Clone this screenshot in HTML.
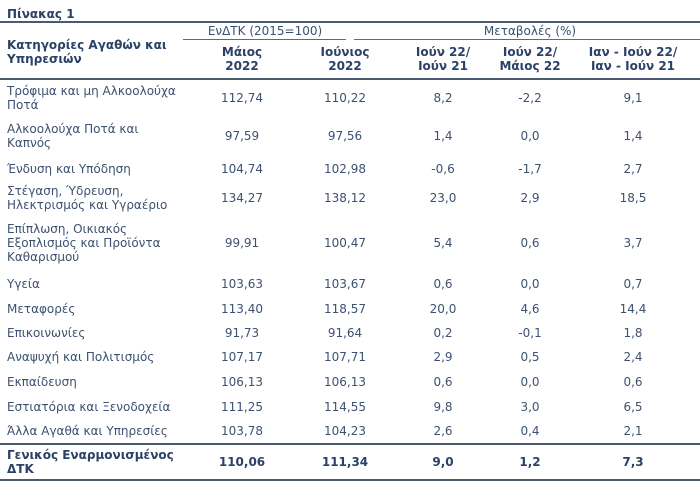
<!DOCTYPE html><html><head><meta charset="utf-8"><style>
body{margin:0;width:700px;height:486px;background:#fff;font-family:"DejaVu Sans",Verdana,sans-serif;font-size:12px;color:#3d5170;position:relative;overflow:hidden}
.a{position:absolute;line-height:14px;white-space:nowrap}
.c{text-align:center;transform:translateX(-50%)}
.b{font-weight:bold;color:#2b4266}
.l{position:absolute;height:2px;background:#4a5a70}
.t{height:1px;background:#5a6a80}
</style></head><body>
<div class="a b" style="left:7px;top:7px">Πίνακας 1</div>
<div class="l" style="left:0;top:21px;width:700px"></div>
<div class="a c" style="left:265px;top:24px">ΕνΔΤΚ (2015=100)</div>
<div class="a c" style="left:530px;top:24px">Μεταβολές (%)</div>
<div class="l t" style="left:183px;top:39px;width:163px"></div>
<div class="l t" style="left:354px;top:39px;width:346px"></div>
<div class="a b" style="left:7px;top:38px">Κατηγορίες Αγαθών και<br>Υπηρεσιών</div>
<div class="a b c" style="left:242px;top:45px">Μάιος<br>2022</div>
<div class="a b c" style="left:345px;top:45px">Ιούνιος<br>2022</div>
<div class="a b c" style="left:443px;top:45px">Ιούν 22/<br>Ιούν 21</div>
<div class="a b c" style="left:530px;top:45px">Ιούν 22/<br>Μάιος 22</div>
<div class="a b c" style="left:633px;top:45px">Ιαν - Ιούν 22/<br>Ιαν - Ιούν 21</div>
<div class="l" style="left:0;top:78px;width:700px"></div>

<div class="a" style="left:7px;top:84px">Τρόφιμα και μη Αλκοολούχα<br>Ποτά</div>
<div class="a c" style="left:242px;top:91px">112,74</div><div class="a c" style="left:345px;top:91px">110,22</div><div class="a c" style="left:443px;top:91px">8,2</div><div class="a c" style="left:530px;top:91px">-2,2</div><div class="a c" style="left:633px;top:91px">9,1</div>

<div class="a" style="left:7px;top:122px">Αλκοολούχα Ποτά και<br>Καπνός</div>
<div class="a c" style="left:242px;top:129px">97,59</div><div class="a c" style="left:345px;top:129px">97,56</div><div class="a c" style="left:443px;top:129px">1,4</div><div class="a c" style="left:530px;top:129px">0,0</div><div class="a c" style="left:633px;top:129px">1,4</div>

<div class="a" style="left:7px;top:162px">Ένδυση και Υπόδηση</div>
<div class="a c" style="left:242px;top:162px">104,74</div><div class="a c" style="left:345px;top:162px">102,98</div><div class="a c" style="left:443px;top:162px">-0,6</div><div class="a c" style="left:530px;top:162px">-1,7</div><div class="a c" style="left:633px;top:162px">2,7</div>

<div class="a" style="left:7px;top:184px">Στέγαση, Ύδρευση,<br>Ηλεκτρισμός και Υγραέριο</div>
<div class="a c" style="left:242px;top:191px">134,27</div><div class="a c" style="left:345px;top:191px">138,12</div><div class="a c" style="left:443px;top:191px">23,0</div><div class="a c" style="left:530px;top:191px">2,9</div><div class="a c" style="left:633px;top:191px">18,5</div>

<div class="a" style="left:7px;top:222px">Επίπλωση, Οικιακός<br>Εξοπλισμός και Προϊόντα<br>Καθαρισμού</div>
<div class="a c" style="left:242px;top:236px">99,91</div><div class="a c" style="left:345px;top:236px">100,47</div><div class="a c" style="left:443px;top:236px">5,4</div><div class="a c" style="left:530px;top:236px">0,6</div><div class="a c" style="left:633px;top:236px">3,7</div>

<div class="a" style="left:7px;top:277px">Υγεία</div>
<div class="a c" style="left:242px;top:277px">103,63</div><div class="a c" style="left:345px;top:277px">103,67</div><div class="a c" style="left:443px;top:277px">0,6</div><div class="a c" style="left:530px;top:277px">0,0</div><div class="a c" style="left:633px;top:277px">0,7</div>

<div class="a" style="left:7px;top:302px">Μεταφορές</div>
<div class="a c" style="left:242px;top:302px">113,40</div><div class="a c" style="left:345px;top:302px">118,57</div><div class="a c" style="left:443px;top:302px">20,0</div><div class="a c" style="left:530px;top:302px">4,6</div><div class="a c" style="left:633px;top:302px">14,4</div>

<div class="a" style="left:7px;top:326px">Επικοινωνίες</div>
<div class="a c" style="left:242px;top:326px">91,73</div><div class="a c" style="left:345px;top:326px">91,64</div><div class="a c" style="left:443px;top:326px">0,2</div><div class="a c" style="left:530px;top:326px">-0,1</div><div class="a c" style="left:633px;top:326px">1,8</div>

<div class="a" style="left:7px;top:350px">Αναψυχή και Πολιτισμός</div>
<div class="a c" style="left:242px;top:350px">107,17</div><div class="a c" style="left:345px;top:350px">107,71</div><div class="a c" style="left:443px;top:350px">2,9</div><div class="a c" style="left:530px;top:350px">0,5</div><div class="a c" style="left:633px;top:350px">2,4</div>

<div class="a" style="left:7px;top:375px">Εκπαίδευση</div>
<div class="a c" style="left:242px;top:375px">106,13</div><div class="a c" style="left:345px;top:375px">106,13</div><div class="a c" style="left:443px;top:375px">0,6</div><div class="a c" style="left:530px;top:375px">0,0</div><div class="a c" style="left:633px;top:375px">0,6</div>

<div class="a" style="left:7px;top:400px">Εστιατόρια και Ξενοδοχεία</div>
<div class="a c" style="left:242px;top:400px">111,25</div><div class="a c" style="left:345px;top:400px">114,55</div><div class="a c" style="left:443px;top:400px">9,8</div><div class="a c" style="left:530px;top:400px">3,0</div><div class="a c" style="left:633px;top:400px">6,5</div>

<div class="a" style="left:7px;top:424px">Άλλα Αγαθά και Υπηρεσίες</div>
<div class="a c" style="left:242px;top:424px">103,78</div><div class="a c" style="left:345px;top:424px">104,23</div><div class="a c" style="left:443px;top:424px">2,6</div><div class="a c" style="left:530px;top:424px">0,4</div><div class="a c" style="left:633px;top:424px">2,1</div>

<div class="l" style="left:0;top:443px;width:700px"></div>
<div class="a b" style="left:7px;top:448px">Γενικός Εναρμονισμένος<br>ΔΤΚ</div>
<div class="a b c" style="left:242px;top:455px">110,06</div><div class="a b c" style="left:345px;top:455px">111,34</div><div class="a b c" style="left:443px;top:455px">9,0</div><div class="a b c" style="left:530px;top:455px">1,2</div><div class="a b c" style="left:633px;top:455px">7,3</div>
<div class="l" style="left:0;top:479px;width:700px"></div>
</body></html>
